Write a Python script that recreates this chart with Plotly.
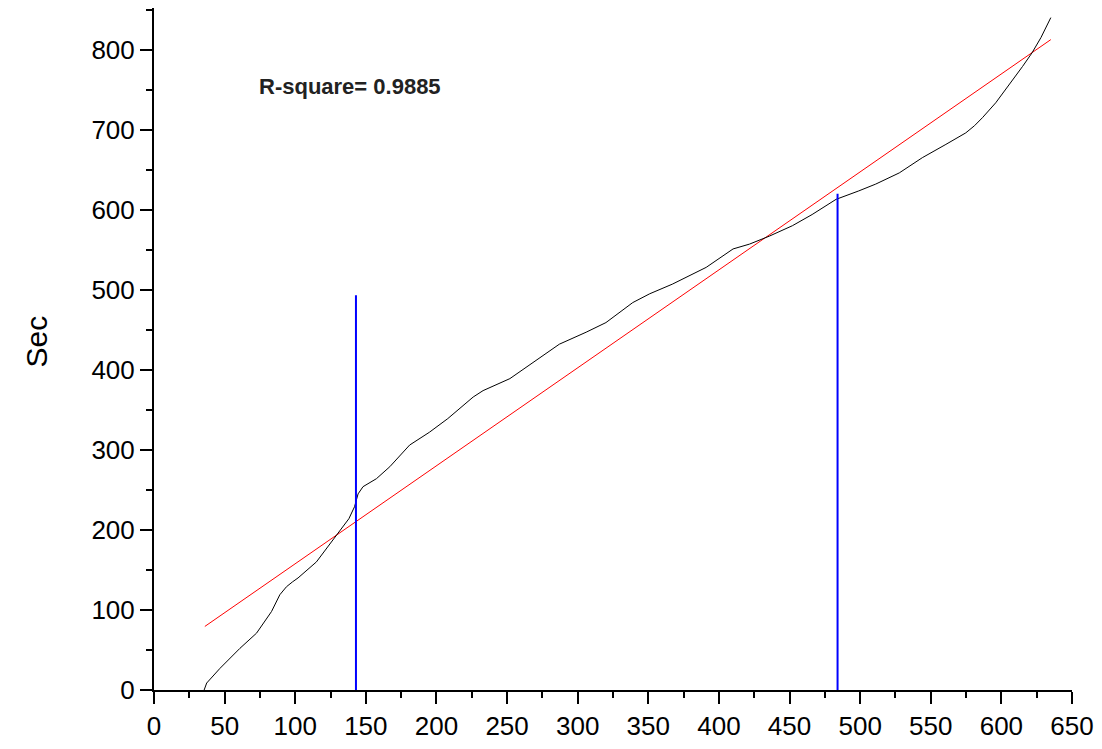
import plotly.graph_objects as go

# Measured curve: time (Sec) against position
curve_x = [35.5, 37.3, 46.7, 60.8, 72.6, 83.2, 89.1, 93.8, 98, 102, 115, 130, 138, 142,
           144.5, 148, 157.5, 167, 176.3, 181, 195, 208, 226, 233, 252, 270.7, 287, 306,
           320, 339, 351, 367, 391, 410, 421.6, 435.7, 452, 466, 483, 499, 511, 527.7,
           544, 560.7, 574.8, 581, 586.6, 596, 605.5, 615, 621.7, 628, 635]
curve_y = [0, 8.7, 27, 52, 71, 98, 119, 129, 135, 140, 160, 196, 214, 229,
           245, 254, 264, 279, 297, 306, 322, 339, 366, 374, 389, 412, 432, 447,
           459, 484, 495, 507, 528, 551, 557, 567, 580, 594, 613, 623.5, 632, 646,
           665, 681.6, 696, 705, 715, 733.6, 756, 779, 796, 815, 840]

# Linear fit end points
fit_x = [36, 635]
fit_y = [79.4, 812.5]

# Vertical markers: x position, bottom and top values
marker_x = [143, 484]
marker_bottom = [-7, -7]
marker_top = [493, 620]

r_square_text = "R-square= 0.9885"

FONT = "Arial, Liberation Sans, sans-serif"

fig = go.Figure()

fig.add_trace(go.Scatter(x=fit_x, y=fit_y, mode="lines",
                         line=dict(color="#ff0000", width=1), showlegend=False))
fig.add_trace(go.Scatter(x=curve_x, y=curve_y, mode="lines",
                         line=dict(color="#000000", width=1), showlegend=False))
for mx, yb, yt in zip(marker_x, marker_bottom, marker_top):
    fig.add_trace(go.Scatter(x=[mx, mx], y=[yb, yt], mode="lines", cliponaxis=False,
                             line=dict(color="#0000ff", width=2), showlegend=False))

fig.add_annotation(x=72.9, y=754, xref="x", yref="y", text="<b>" + r_square_text + "</b>",
                   showarrow=False, xanchor="left", yanchor="middle",
                   font=dict(family=FONT, size=22, color="#222222"))

fig.add_annotation(x=-0.128, y=436, xref="paper", yref="y", text="Sec", textangle=-90,
                   showarrow=False, xanchor="center", yanchor="middle",
                   font=dict(family=FONT, size=30, color="#000000"))

axis_common = dict(
    showline=True, linecolor="black", linewidth=2,
    ticks="outside", ticklen=12, tickwidth=2, tickcolor="black",
    showgrid=False, zeroline=False,
    tickfont=dict(family=FONT, size=26, color="#000000"),
)

fig.update_xaxes(range=[0, 650], tick0=0, dtick=50,
                 minor=dict(ticks="outside", ticklen=6, tickwidth=2, tickcolor="black", dtick=25, showgrid=False),
                 **axis_common)
fig.update_yaxes(range=[0, 852], tick0=0, dtick=100,
                 minor=dict(ticks="outside", ticklen=6, tickwidth=2, tickcolor="black", dtick=50, showgrid=False),
                 **axis_common)

fig.update_layout(
    width=1102, height=749,
    margin=dict(l=154, r=29, t=8, b=57),
    paper_bgcolor="white", plot_bgcolor="white",
    font=dict(family=FONT),
)

fig.write_html("out.html")
